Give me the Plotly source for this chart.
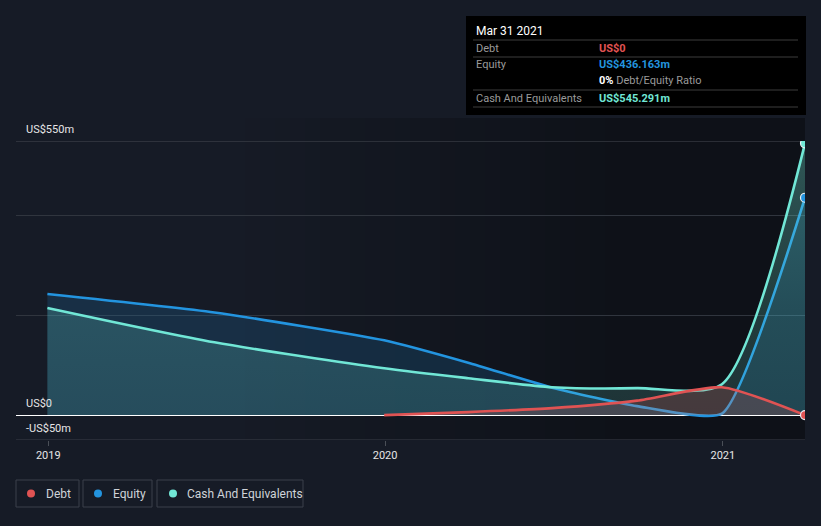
import plotly.graph_objects as go

# ---------------- data ----------------
dates = ["2018-12-31", "2019-06-30", "2019-12-31", "2020-03-31", "2020-06-30",
         "2020-09-30", "2020-12-31", "2021-03-31"]
equity = [243, 206, 150, 105, 55, 18, 3, 436.163]
cash = [215, 146, 94, 74, 56, 54, 62, 545.291]
debt_dates = ["2019-12-31", "2020-03-31", "2020-06-30", "2020-09-30", "2020-12-31", "2021-03-31"]
debt = [0, 6, 14, 29, 56, 0]

x_tick_vals = ["2019-01-01", "2020-01-01", "2021-01-01"]
x_tick_text = ["2019", "2020", "2021"]
y_grid_vals = [-50, 0, 200, 400, 550]
y_label_vals = [550, 0, -50]
y_label_text = ["US$550m", "US$0", "-US$50m"]

legend_names = ["Debt", "Equity", "Cash And Equivalents"]
tooltip_title = "Mar 31 2021"
tooltip_labels = ["Debt", "Equity", "", "Cash And Equivalents"]
tooltip_values = ["US$0", "US$436.163m", "0%", "US$545.291m"]

# ---------------- style ----------------
W, H = 821, 526
L, R, T, B = 16, 16, 141, 86
PW, PH = W - L - R, H - T - B
BG = "#161b26"
DARK = (14, 17, 24)
LIGHT = (22, 27, 38)
C_DEBT = "#e05353"
C_EQ = "#2394df"
C_CASH = "#71e7d6"
FONT = "Roboto, 'Open Sans', sans-serif"


def px(x):
    return (x - L) / PW


def py(y):
    return (H - B - y) / PH


fig = go.Figure()

fig.add_trace(go.Scatter(
    x=dates, y=equity, mode="lines", line=dict(color=C_EQ, width=2.6, shape="spline", smoothing=0.5),
    fill="tozeroy", fillcolor="rgba(35,148,223,0.17)", hoverinfo="skip"))
fig.add_trace(go.Scatter(
    x=dates, y=cash, mode="lines", line=dict(color=C_CASH, width=2.6, shape="spline", smoothing=0.7),
    fill="tozeroy",
    fillgradient=dict(type="vertical", colorscale=[[0, "rgba(113,231,214,0.16)"], [0.4, "rgba(113,231,214,0.2)"],
                                                  [1, "rgba(113,231,214,0.33)"]]),
    hoverinfo="skip"))
fig.add_trace(go.Scatter(
    x=debt_dates, y=debt, mode="lines", line=dict(color=C_DEBT, width=2.6, shape="spline", smoothing=0.6),
    fill="tozeroy", fillcolor="rgba(224,83,83,0.2)", hoverinfo="skip"))

# end markers
for ys, col in [(debt, C_DEBT), (equity, C_EQ), (cash, C_CASH)]:
    fig.add_trace(go.Scatter(x=[dates[-1]], y=[ys[-1]], mode="markers",
                             marker=dict(size=9, color=col, line=dict(color="#e8f0f5", width=1.2)),
                             hoverinfo="skip"))

shapes = []
# dark background gradient band
g0, g1, steps = 230, 620, 26
top = py(118)
for i in range(steps):
    a = g0 + (g1 - g0) * i / steps
    b = g0 + (g1 - g0) * (i + 1) / steps + 0.5
    t = (i + 0.5) / steps
    c = tuple(round(LIGHT[k] + (DARK[k] - LIGHT[k]) * t) for k in range(3))
    shapes.append(dict(type="rect", xref="paper", yref="paper", x0=px(a), x1=px(b), y0=0, y1=top,
                       fillcolor="rgb(%d,%d,%d)" % c, line=dict(width=0), layer="below"))
shapes.append(dict(type="rect", xref="paper", yref="paper", x0=px(g1), x1=1, y0=0, y1=top,
                   fillcolor="rgb(%d,%d,%d)" % DARK, line=dict(width=0), layer="below"))

# edge gridlines (top and bottom of the value range)
for gv, gc in [(550, "#464a52"), (-50, "#3a3f48")]:
    shapes.append(dict(type="line", xref="paper", yref="y", x0=0, x1=1, y0=gv, y1=gv,
                       line=dict(color=gc, width=1), layer="below"))

# tooltip box
shapes.append(dict(type="rect", xref="paper", yref="paper", x0=px(466), x1=px(806), y0=py(115), y1=py(16),
                   fillcolor="#000000", line=dict(width=0), layer="above"))
for ly in [40, 57, 90, 107]:
    shapes.append(dict(type="line", xref="paper", yref="paper", x0=px(473), x1=px(798), y0=py(ly), y1=py(ly),
                       line=dict(color="#3d3d3d", width=1), layer="above"))

annotations = []
annotations.append(dict(text=tooltip_title, xref="paper", yref="paper", x=px(474), y=py(31),
                        xanchor="left", yanchor="middle", showarrow=False,
                        font=dict(color="#ffffff", size=12, family=FONT)))
row_y = [48, 65, 81, 98]
val_colors = [C_DEBT, C_EQ, "#ffffff", C_CASH]
for lab, val, yy, vc in zip(tooltip_labels, tooltip_values, row_y, val_colors):
    if lab:
        annotations.append(dict(text=lab, xref="paper", yref="paper", x=px(474), y=py(yy),
                                xanchor="left", yanchor="middle", showarrow=False,
                                font=dict(color="#9a9a9a", size=11, family=FONT)))
    txt = "<b>%s</b>" % val
    if val == "0%":
        txt = "<b>0%</b> <span style='color:#9a9a9a'>Debt/Equity Ratio</span>"
    annotations.append(dict(text=txt, xref="paper", yref="paper", x=px(597), y=py(yy),
                            xanchor="left", yanchor="middle", showarrow=False,
                            font=dict(color=vc, size=11, family=FONT)))

# y labels
for v, t in zip(y_label_vals, y_label_text):
    annotations.append(dict(text=t, xref="paper", yref="y", x=px(24), y=v, yshift=12,
                            xanchor="left", yanchor="middle", showarrow=False,
                            font=dict(color="#e6e6e6", size=11, family=FONT)))

# custom legend
boxes = [(16, 79), (83, 152), (157, 303)]
dot_x = [31, 98, 173]
text_x = [44, 111, 185]
colors = [C_DEBT, C_EQ, C_CASH]
for (bx0, bx1), dx, tx, name, col in zip(boxes, dot_x, text_x, legend_names, colors):
    shapes.append(dict(type="rect", xref="paper", yref="paper", x0=px(bx0), x1=px(bx1), y0=py(507), y1=py(480),
                       fillcolor="rgba(0,0,0,0)", line=dict(color="#3b414b", width=1)))
    shapes.append(dict(type="circle", xref="paper", yref="paper", x0=px(dx - 4), x1=px(dx + 4),
                       y0=py(497.5), y1=py(489.5), fillcolor=col, line=dict(width=0)))
    annotations.append(dict(text=name, xref="paper", yref="paper", x=px(tx), y=py(493.5),
                            xanchor="left", yanchor="middle", showarrow=False,
                            font=dict(color="#cfd3d8", size=12, family=FONT)))

fig.update_layout(
    width=W, height=H, margin=dict(l=L, r=R, t=T, b=B),
    paper_bgcolor=BG, plot_bgcolor="rgba(0,0,0,0)", showlegend=False,
    shapes=shapes, annotations=annotations,
    xaxis=dict(type="date", range=["2018-11-27", "2021-03-31"], tickvals=x_tick_vals, ticktext=x_tick_text,
               showgrid=False, zeroline=False, showline=False, ticks="outside", ticklen=5, tickcolor="#4a4f57",
               tickfont=dict(color="#e6e6e6", size=11, family=FONT)),
    yaxis=dict(range=[-50, 550], tickvals=y_grid_vals, showticklabels=False, showgrid=True,
               gridcolor="#30353e", gridwidth=1, zeroline=True, zerolinecolor="#ffffff", zerolinewidth=1.3,
               fixedrange=True),
)

fig.write_html("out.html")
